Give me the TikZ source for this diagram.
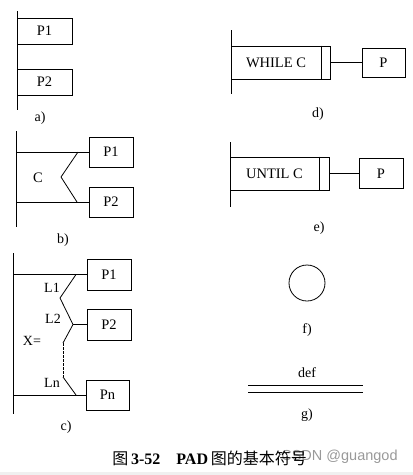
\documentclass[tikz,border=0pt]{standalone}
\usepackage{fontspec}
\setmainfont{Liberation Serif}
\newfontfamily\cjk{Noto Sans CJK SC}
\newfontfamily\wmfont{Liberation Sans}
\begin{document}
\begin{tikzpicture}[x=1pt,y=-1pt, line width=0.8pt,
  box/.style={draw, minimum width=44pt, minimum height=30pt, inner sep=0pt, font=\fontsize{14.5}{16}\selectfont},
  lbl/.style={inner sep=0pt, font=\fontsize{14}{16}\selectfont},
  txt/.style={inner sep=0pt, font=\fontsize{14.5}{16}\selectfont}]
\useasboundingbox (0,0) rectangle (413,475);
\fill[black!6] (0,472) rectangle (413,475);

% ---- a)
\coordinate (aT) at (17,11);
\coordinate (aB) at (17,110);
\draw (aT) -- (aB);
\node[box, minimum width=55pt, minimum height=26pt] (aP1) at (44.5,31) {P1};
\node[box, minimum width=55pt, minimum height=26pt] (aP2) at (44.5,82) {P2};
\node[lbl] (la) at (40,118) {a)};

% ---- b)
\coordinate (bT) at (16,131);
\coordinate (bB) at (16,227);
\draw (bT) -- (bB);
\node[box] (bP1) at (111,152) {P1};
\node[box] (bP2) at (111,202) {P2};
\coordinate (bL1) at (16,152);
\coordinate (bL2) at (16,202);
\draw (bL1) -- (bP1.west);
\draw (bL2) -- (bP2.west);
\coordinate (bz1) at (78,152);
\coordinate (bz2) at (61,177);
\coordinate (bz3) at (77,202);
\draw (bz1) -- (bz2) -- (bz3);
\node[txt] (bC) at (38,178) {C};
\node[lbl] (lb) at (63,240) {b)};

% ---- c)
\coordinate (cT) at (13,253);
\coordinate (cB) at (13,414);
\draw (cT) -- (cB);
\node[box, minimum height=31pt] (cP1) at (109,274.5) {P1};
\node[box, minimum height=31pt] (cP2) at (109,324.5) {P2};
\node[box, minimum width=43pt] (cPn) at (107.5,395) {Pn};
\coordinate (cL1) at (13,274.5);
\coordinate (cLn) at (13,395);
\draw (cL1) -- (cP1.west);
\draw (cLn) -- (cPn.west);
\coordinate (cz1) at (76,274.5);
\coordinate (cz2) at (60,298);
\coordinate (cz3) at (73,324.5);
\coordinate (cz4) at (63,343);
\coordinate (cz5) at (63,377);
\coordinate (cz6) at (76,395);
\draw (cz1) -- (cz2) -- (cz3) -- (cz4);
\draw[dash pattern=on 2.5pt off 1.5pt] (cz4) -- (cz5);
\draw (cz5) -- (cz6);
\draw (cz3) -- (cP2.west);
\node[lbl] (cl1) at (52,288) {L1};
\node[lbl] (cl2) at (53,319) {L2};
\node[lbl] (cx) at (32,341) {X=};
\node[lbl] (cln) at (52,383) {Ln};
\node[lbl] (lc) at (66,427) {c)};

% ---- d)
\coordinate (dT) at (231,30);
\coordinate (dB) at (231,94);
\draw (dT) -- (dB);
\node[box, minimum width=99pt, minimum height=33pt] (dW) at (280.5,62.5) {};
\draw ([xshift=-9pt]dW.north east) -- ([xshift=-9pt]dW.south east);
\node[txt] (dWt) at (276,63) {WHILE C};
\node[box, minimum width=43pt, minimum height=29pt] (dP) at (383.5,62.5) {P};
\draw (dW.east) -- (dP.west);
\node[lbl] (ld) at (318,114) {d)};

% ---- e)
\coordinate (eT) at (230,142);
\coordinate (eB) at (230,207);
\draw (eT) -- (eB);
\node[box, minimum width=99pt, minimum height=33pt] (eU) at (279.5,173.5) {};
\draw ([xshift=-10pt]eU.north east) -- ([xshift=-10pt]eU.south east);
\node[txt] (eUt) at (274.5,173.5) {UNTIL C};
\node[box, minimum width=44pt, minimum height=30pt] (eP) at (381,173.5) {P};
\draw (eU.east) -- (eP.west);
\node[lbl] (le) at (319,228) {e)};

% ---- f)
\node[draw, circle, minimum size=36pt, inner sep=0pt] (fC) at (307,283) {};
\node[lbl] (lf) at (307,330) {f)};

% ---- g)
\node[lbl] (gdef) at (307,373) {def};
\coordinate (g1a) at (248,385);
\coordinate (g1b) at (363,385);
\coordinate (g2a) at (248,392);
\coordinate (g2b) at (363,392);
\draw (g1a) -- (g1b);
\draw (g2a) -- (g2b);
\node[lbl] (lg) at (307,415) {g)};

% ---- caption
\node[anchor=east, inner sep=0pt, text=black!40, font=\wmfont\fontsize{14.5}{16}\selectfont] (wm) at (398,457) {CSDN @guangod};
\node[anchor=west, inner sep=0pt, font=\fontsize{16}{18}\selectfont] (cap) at (112,458)
  {{\cjk 图}\,\textbf{3-52}\hspace{16pt}\textbf{PAD}\,{\cjk 图的基本符号}};
\end{tikzpicture}
\end{document}
